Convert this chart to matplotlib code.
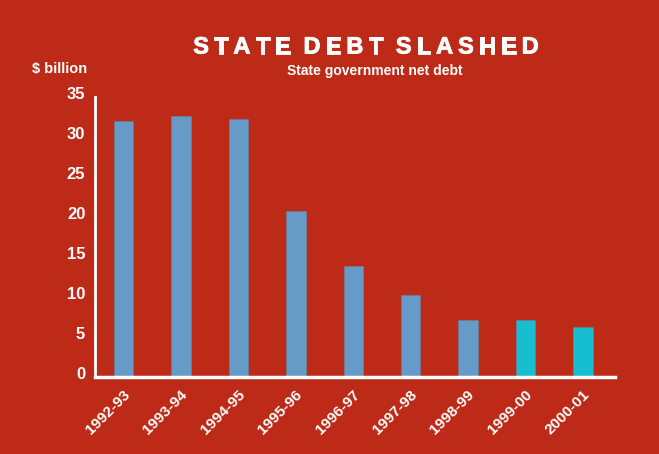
import numpy as np
import matplotlib
matplotlib.use('Agg')
import matplotlib.pyplot as plt
import matplotlib.patheffects as pe
from matplotlib.transforms import ScaledTranslation

plt.rcParams['font.family'] = ['Liberation Sans', 'DejaVu Sans']

# data
years = ['1992-93', '1993-94', '1994-95', '1995-96', '1996-97',
         '1997-98', '1998-99', '1999-00', '2000-01']
debt = [32.0, 32.6, 32.2, 20.7, 13.9, 10.2, 7.1, 7.1, 6.3]
forecast = [False, False, False, False, False, False, False, True, True]
y_ticks = [0, 5, 10, 15, 20, 25, 30, 35]

bg = '#BD2A17'
blue = '#679BC7'
cyan = '#17BECF'

W, H = 659, 454
fig = plt.figure(figsize=(W / 100, H / 100), dpi=100, facecolor=bg)
ax = fig.add_axes([95 / W, 1 - 377 / H, (615 - 95) / W, (377 - 97) / H])
ax.set_facecolor(bg)

x = np.arange(len(years))
cols = [cyan if f else blue for f in forecast]
ax.bar(x, debt, width=0.34, color=cols, edgecolor='#5E86A8', linewidth=0.4, zorder=2)

ax.set_xlim(-0.5, 8.56)
ax.set_ylim(0, 35)
ax.set_yticks(y_ticks)
ax.set_yticklabels([str(t) for t in y_ticks], fontsize=12, fontweight='bold', color='white')
ax.set_xticks(x)
ax.set_xticklabels(years, fontsize=11, fontweight='bold', color='white',
                   rotation=45, ha='right', va='center', rotation_mode='anchor')
ax.tick_params(axis='y', length=0, pad=7)
ax.tick_params(axis='x', length=0, pad=11)

# nudge tick labels like the original
for lab in ax.get_yticklabels():
    lab.set_transform(lab.get_transform() + ScaledTranslation(0, 4 / 100, fig.dpi_scale_trans))
for lab in ax.get_xticklabels():
    lab.set_transform(lab.get_transform() + ScaledTranslation(4 / 100, 0, fig.dpi_scale_trans))

for s in ['top', 'right']:
    ax.spines[s].set_visible(False)
ax.spines['left'].set_color('white')
ax.spines['left'].set_linewidth(2)
ax.spines['bottom'].set_color('white')
ax.spines['bottom'].set_linewidth(2.5)

# letter-spaced title, drawn char by char
title = 'STATE DEBT SLASHED'
tsize = 17
gap = 5.0  # extra px between letters
heavy = [pe.withStroke(linewidth=0.6, foreground='white')]
r = fig.canvas.get_renderer()
widths = []
for ch in title:
    t = fig.text(0, 0, ch if ch != ' ' else 'I', fontsize=tsize, fontweight='bold')
    w = t.get_window_extent(r).width
    t.remove()
    widths.append(w * 0.45 if ch == ' ' else w)
total = sum(widths) + gap * (len(title) - 1)
xpos = 366 - total / 2
for ch, w in zip(title, widths):
    if ch != ' ':
        fig.text(xpos / W, 1 - 47 / H, ch, fontsize=tsize, fontweight='bold',
                 color='white', ha='left', va='center', path_effects=heavy)
    xpos += w + gap

fig.text(375 / W, 1 - 71 / H, 'State government net debt', fontsize=10,
         fontweight='bold', color='white', ha='center', va='center')
fig.text(32 / W, 1 - 69 / H, '$ billion', fontsize=10.5, fontweight='bold',
         color='white', ha='left', va='center')

fig.savefig('out.png', dpi=100, facecolor=bg)
